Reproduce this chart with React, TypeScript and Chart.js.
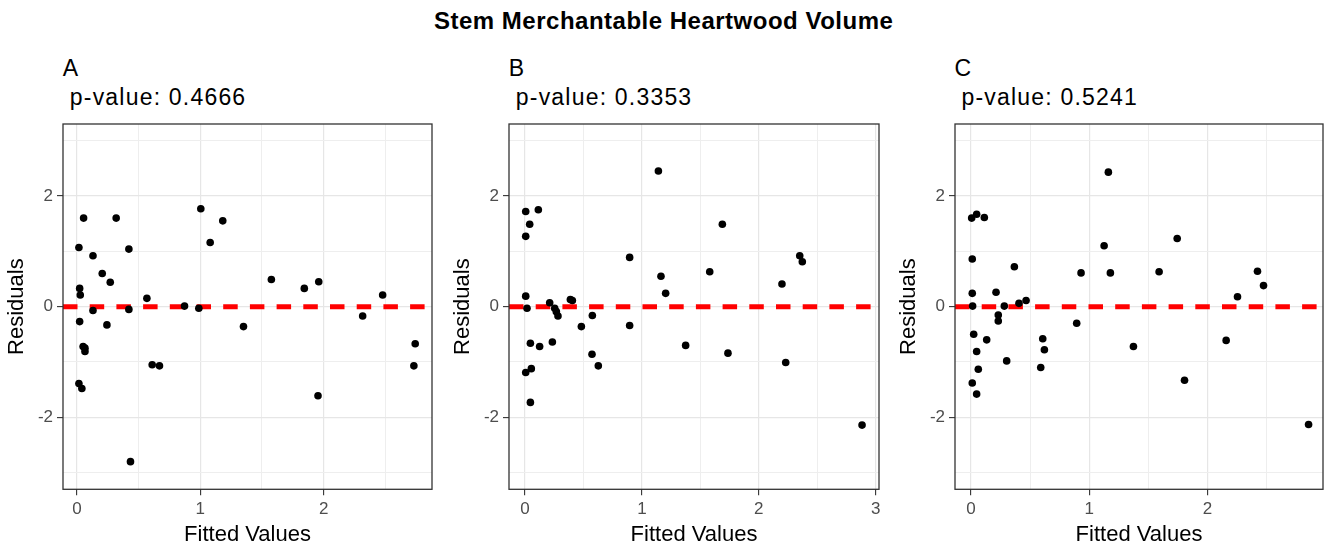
import React, { useEffect, useRef } from "react";
import { Chart, registerables } from "chart.js";

Chart.register(...registerables);

// ---------- data ----------
const chartTitle = "Stem Merchantable Heartwood Volume";
const panelLabels = ["A", "B", "C"];
const pValues = ["0.4666", "0.3353", "0.5241"];
const xAxisTitle = "Fitted Values";
const yAxisTitle = "Residuals";

const fittedA = [0.054, 0.016, 0.318, 0.421, 0.13, 0.205, 0.27, 0.022, 0.027, 0.567, 0.872, 0.13, 0.421, 0.988, 0.022, 0.243, 0.05, 0.065, 0.065, 0.016, 0.04, 0.434, 0.61, 0.669, 1.004, 1.08, 1.182, 1.35, 1.576, 1.843, 1.96, 1.954, 2.316, 2.478, 2.742, 2.731];
const residA = [1.6, 1.07, 1.6, 1.04, 0.92, 0.6, 0.44, 0.33, 0.21, 0.15, 0.01, -0.07, -0.05, -0.03, -0.27, -0.33, -0.72, -0.75, -0.81, -1.39, -1.48, -2.8, -1.05, -1.07, 1.77, 1.16, 1.55, -0.36, 0.49, 0.33, 0.45, -1.61, -0.17, 0.21, -0.67, -1.07];

const fittedB = [0.006, 0.04, 0.114, 0.006, 0.006, 0.017, 0.046, 0.125, 0.006, 0.054, 0.046, 0.211, 0.254, 0.268, 0.282, 0.234, 0.388, 0.405, 0.482, 0.576, 0.573, 0.627, 0.895, 0.895, 1.141, 1.163, 1.203, 1.374, 1.58, 1.688, 1.736, 2.198, 2.23, 2.35, 2.372, 2.883];
const residB = [1.72, 1.49, 1.75, 1.27, 0.19, -0.03, -0.66, -0.72, -1.19, -1.12, -1.73, 0.07, -0.03, -0.09, -0.17, -0.64, 0.13, 0.11, -0.36, -0.16, -0.86, -1.07, 0.89, -0.34, 2.45, 0.55, 0.24, -0.7, 0.63, 1.49, -0.84, 0.41, -1.01, 0.92, 0.81, -2.14];

const fittedC = [0.006, 0.048, 0.113, 0.011, 0.011, 0.014, 0.023, 0.048, 0.062, 0.011, 0.048, 0.133, 0.212, 0.231, 0.231, 0.282, 0.302, 0.367, 0.406, 0.466, 0.59, 0.607, 0.621, 0.894, 0.931, 1.126, 1.162, 1.179, 1.374, 1.591, 1.744, 1.806, 2.158, 2.254, 2.423, 2.474, 2.855];
const residC = [1.6, 1.67, 1.61, 0.86, 0.24, 0.01, -0.5, -0.81, -1.13, -1.38, -1.58, -0.6, 0.26, -0.15, -0.26, 0.01, -0.98, 0.72, 0.06, 0.11, -1.1, -0.58, -0.78, -0.3, 0.61, 1.1, 2.43, 0.61, -0.72, 0.63, 1.23, -1.33, -0.61, 0.18, 0.64, 0.38, -2.13];

const xMajorA = [0, 1, 2];
const xMinorA = [0.5, 1.5, 2.5];
const xMajorB = [0, 1, 2, 3];
const xMinorB = [0.5, 1.5, 2.5];
const xMajorC = [0, 1, 2];
const xMinorC = [0.5, 1.5, 2.5];
const yMajor = [-2, 0, 2];
const yMinor = [-3, -1, 1, 3];

const xLimitsA = [-0.113, 2.878];
const xLimitsB = [-0.137, 3.028];
const xLimitsC = [-0.135, 2.977];
const yLimits = [-3.3, 3.3];

const referenceY = 0;

// ---------- layout ----------
const FONT = "'Liberation Sans', Arial, Helvetica, sans-serif";
const Y_AXIS_W = 63;
const X_AXIS_H = 60.7;
const PAD_TOP = 9;
const PAD_RIGHT = 5;
const CANVAS_TOP = 115;
const CANVAS_H = 435;

const panels = [
  { fitted: fittedA, resid: residA, xMajor: xMajorA, xMinor: xMinorA, xLim: xLimitsA, plotLeft: 63.3, plotWidth: 369.4 },
  { fitted: fittedB, resid: residB, xMajor: xMajorB, xMinor: xMinorB, xLim: xLimitsB, plotLeft: 509.3, plotWidth: 370 },
  { fitted: fittedC, resid: residC, xMajor: xMajorC, xMinor: xMinorC, xLim: xLimitsC, plotLeft: 955, plotWidth: 367.7 },
];

const borderPlugin = {
  id: "panelBorder",
  afterDatasetsDraw(chart: any) {
    const { ctx, chartArea: a } = chart;
    ctx.save();
    ctx.strokeStyle = "#333333";
    ctx.lineWidth = 1.3;
    ctx.strokeRect(a.left, a.top, a.right - a.left, a.bottom - a.top);
    ctx.restore();
  },
};

function Panel(props: any) {
  const { fitted, resid, xMajor, xMinor, xLim, plotLeft, plotWidth } = props;
  const ref = useRef<HTMLCanvasElement>(null);
  const canvasLeft = plotLeft - Y_AXIS_W;
  const canvasW = Math.round(Y_AXIS_W + plotWidth + PAD_RIGHT);

  useEffect(() => {
    if (!ref.current) return;
    const points = fitted.map((x: number, i: number) => ({ x, y: resid[i] }));
    const xTicks = [...xMajor, ...xMinor].sort((a, b) => a - b);
    const yTicks = [...yMajor, ...yMinor].sort((a, b) => a - b);
    const isMajorX = (v: number) => xMajor.includes(v);
    const isMajorY = (v: number) => yMajor.includes(v);

    const chart = new Chart(ref.current, {
      type: "scatter",
      data: {
        datasets: [
          {
            type: "scatter",
            data: points,
            backgroundColor: "#000000",
            borderWidth: 0,
            pointRadius: 3.8,
            pointHoverRadius: 3.8,
          },
          {
            type: "line",
            data: [
              { x: xLim[0], y: referenceY },
              { x: xLim[1], y: referenceY },
            ],
            borderColor: "#FF0000",
            borderWidth: 5,
            borderDash: [14.5, 12.2],
            pointRadius: 0,
            fill: false,
          },
        ],
      } as any,
      options: {
        animation: false,
        responsive: false,
        maintainAspectRatio: false,
        layout: { padding: { top: PAD_TOP, right: PAD_RIGHT, left: 0, bottom: 0 } },
        plugins: { legend: { display: false }, tooltip: { enabled: false } },
        scales: {
          x: {
            type: "linear",
            min: xLim[0],
            max: xLim[1],
            afterBuildTicks: (scale: any) => {
              scale.ticks = xTicks.map((v) => ({ value: v }));
            },
            afterFit: (scale: any) => {
              scale.height = X_AXIS_H;
              scale.paddingLeft = 0;
              scale.paddingRight = 0;
            },
            border: { display: false },
            grid: {
              color: (c: any) => (c.tick && isMajorX(c.tick.value) ? "#E6E6E6" : "#EEEEEE"),
              lineWidth: (c: any) => (c.tick && isMajorX(c.tick.value) ? 1.2 : 1),
              tickColor: (c: any) => (c.tick && isMajorX(c.tick.value) ? "#333333" : "rgba(0,0,0,0)"),
              tickWidth: 1.1,
              tickLength: 6,
              drawTicks: true,
            },
            ticks: {
              autoSkip: false,
              maxRotation: 0,
              padding: 4,
              color: "#4D4D4D",
              font: { family: FONT, size: 17 },
              callback: (v: any) => (isMajorX(Number(v)) ? String(v) : ""),
            },
            title: {
              display: true,
              text: xAxisTitle,
              color: "#000000",
              font: { family: FONT, size: 22 },
              padding: { top: 0, bottom: 2 },
            },
          },
          y: {
            type: "linear",
            min: yLimits[0],
            max: yLimits[1],
            afterBuildTicks: (scale: any) => {
              scale.ticks = yTicks.map((v) => ({ value: v }));
            },
            afterFit: (scale: any) => {
              scale.width = Y_AXIS_W;
              scale.paddingTop = 0;
              scale.paddingBottom = 0;
            },
            border: { display: false },
            grid: {
              color: (c: any) => (c.tick && isMajorY(c.tick.value) ? "#E6E6E6" : "#EEEEEE"),
              lineWidth: (c: any) => (c.tick && isMajorY(c.tick.value) ? 1.2 : 1),
              tickColor: (c: any) => (c.tick && isMajorY(c.tick.value) ? "#333333" : "rgba(0,0,0,0)"),
              tickWidth: 1.1,
              tickLength: 6,
              drawTicks: true,
            },
            ticks: {
              autoSkip: false,
              padding: 4,
              color: "#4D4D4D",
              font: { family: FONT, size: 17 },
              callback: (v: any) => (isMajorY(Number(v)) ? String(v) : ""),
            },
            title: {
              display: true,
              text: yAxisTitle,
              color: "#000000",
              font: { family: FONT, size: 22 },
              padding: { top: 4, bottom: 0 },
            },
          },
        },
      } as any,
      plugins: [borderPlugin],
    });
    return () => chart.destroy();
  }, []);

  return (
    <canvas
      ref={ref}
      width={canvasW}
      height={CANVAS_H}
      style={{ position: "absolute", left: canvasLeft, top: CANVAS_TOP, width: canvasW, height: CANVAS_H }}
    />
  );
}

export default function App() {
  return (
    <div
      style={{
        position: "fixed",
        left: 0,
        top: 0,
        width: 1328,
        height: 550,
        background: "#FFFFFF",
        overflow: "hidden",
        fontFamily: FONT,
      }}
    >
      <div
        style={{
          position: "absolute",
          left: 434,
          top: 9,
          fontSize: 24,
          lineHeight: "24px",
          fontWeight: "bold",
          letterSpacing: 0.5,
          whiteSpace: "nowrap",
          color: "#000",
        }}
      >
        {chartTitle}
      </div>
      {panels.map((p, i) => (
        <React.Fragment key={i}>
          <div
            style={{
              position: "absolute",
              left: p.plotLeft - 0.5,
              top: 57,
              fontSize: 23,
              lineHeight: "23px",
              whiteSpace: "nowrap",
              color: "#000",
            }}
          >
            {panelLabels[i]}
          </div>
          <div
            style={{
              position: "absolute",
              left: p.plotLeft + 6.5,
              top: 85.8,
              fontSize: 23,
              lineHeight: "23px",
              letterSpacing: 1.2,
              whiteSpace: "nowrap",
              color: "#000",
            }}
          >
            {"p-value: " + pValues[i]}
          </div>
          <Panel {...p} />
        </React.Fragment>
      ))}
    </div>
  );
}
